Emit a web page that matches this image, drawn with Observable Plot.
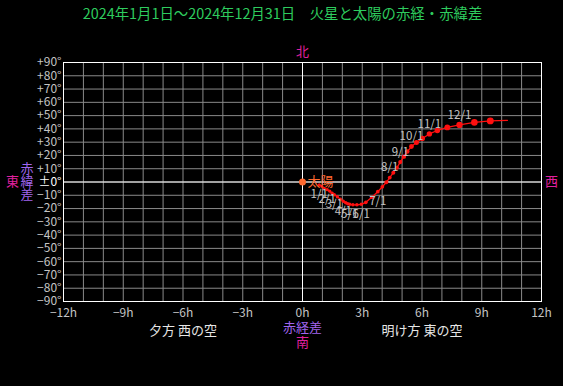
<!DOCTYPE html>
<html><head><meta charset="utf-8">
<script src="https://cdn.jsdelivr.net/npm/d3@7"></script>
<script src="https://cdn.jsdelivr.net/npm/@observablehq/plot@0.6"></script>
<style>
html,body{margin:0;padding:0;background:#000;}
</style></head><body><div id="chart"></div>
<script>
// ---- data ----
const title = "2024年1月1日～2024年12月31日　火星と太陽の赤経・赤緯差";
const dates = ["1/1","1/11","1/21","2/1","2/11","2/21","3/1","3/11","3/21","4/1","4/11","4/21","5/1","5/11","5/21","6/1","6/11","6/21","7/1","7/11","7/21","8/1","8/11","8/21","9/1","9/11","9/21","10/1","10/11","10/21","11/1","11/11","11/21","12/1","12/11","12/21","12/31"];
const raDiff = [0.84,0.97,1.09,1.24,1.37,1.49,1.60,1.75,1.90,2.05,2.17,2.27,2.37,2.53,2.73,2.95,3.18,3.48,3.78,4.01,4.21,4.38,4.56,4.74,4.91,5.09,5.26,5.47,5.72,6.02,6.37,6.77,7.27,7.88,8.63,9.43,10.29];
const decDiff = [-2.0,-3.2,-4.7,-5.8,-6.9,-8.5,-9.6,-11.1,-13.0,-14.5,-15.7,-16.4,-16.8,-17.2,-17.2,-16.8,-15.3,-11.5,-7.3,-3.6,-0.2,3.3,7.0,10.8,15.0,19.1,22.9,26.7,29.7,32.8,36.2,38.8,41.1,43.0,44.9,46.0,46.4];
const marsMag = [1.4,1.4,1.3,1.3,1.3,1.2,1.2,1.2,1.2,1.2,1.1,1.1,1.1,1.1,1.1,1.1,1.0,1.0,1.0,1.0,0.9,0.9,0.8,0.8,0.7,0.6,0.5,0.3,0.2,0.1,0.0,-0.1,-0.3,-0.5,-0.7,-0.9,-1.2];
const sunRa = [0];
const sunDec = [0];
const sunName = ["太陽"];
const xTicks = [-12,-9,-6,-3,0,3,6,9,12];
const hourGrid = [-12,-11,-10,-9,-8,-7,-6,-5,-4,-3,-2,-1,0,1,2,3,4,5,6,7,8,9,10,11,12];
const yTicks = [90,80,70,60,50,40,30,20,10,0,-10,-20,-30,-40,-50,-60,-70,-80,-90];
const sideLabels = ["夕方 西の空","明け方 東の空"];
const sideHours = [-6, 6];

// ---- build ----
const pts = dates.map((d,i)=>({date:d, ra:raDiff[i], dec:decDiff[i], mag:marsMag[i]}));
const dotted = pts.filter(p => !p.date.endsWith("/31"));
const firsts = pts.filter(p => /\/1$/.test(p.date));
const below = firsts.filter(p => +p.date.split("/")[0] <= 7);
const above = firsts.filter(p => +p.date.split("/")[0] >= 8);
const sun = sunRa.map((r,i)=>({ra:r, dec:sunDec[i], name:sunName[i]}));
const fmtX = d => (d < 0 ? "−" + (-d) : d) + "h";
const fmtY = d => (d > 0 ? "+" + d : d < 0 ? "−" + (-d) : "±0") + "°";

const font = "'Noto Sans CJK JP', 'Noto Sans', sans-serif";
const gray = "#c4c4c4", grid = "#8a8a8a", mag = "#e0209f", purple = "#a066ee";
const mid = {lineAnchor: "middle", textAnchor: "middle"};

const chart = Plot.plot({
  width: 563, height: 386,
  marginLeft: 63, marginRight: 22, marginTop: 62, marginBottom: 85,
  style: {background: "#000", color: gray, fontFamily: font, fontSize: "12px"},
  x: {domain: [-12, 12], axis: null},
  y: {domain: [-90, 90], axis: null},
  r: {type: "linear", domain: [1.4, -1.2], range: [1.5, 3.7]},
  marks: [
    Plot.ruleX(hourGrid, {x: d => d, stroke: grid}),
    Plot.ruleY(yTicks, {y: d => d, stroke: grid}),
    Plot.ruleX([0], {stroke: "#fff"}),
    Plot.ruleY([0], {stroke: "#fff"}),
    Plot.frame({stroke: "#fff"}),
    // axis labels
    Plot.text(xTicks, {x: d => d, frameAnchor: "bottom", ...mid, dy: 12, text: fmtX, fill: gray, fontSize: 12}),
    Plot.text(yTicks.filter(d => d !== 0), {y: d => d, frameAnchor: "left", lineAnchor: "middle", textAnchor: "end", dx: -2, text: fmtY, fill: gray, fontSize: 12}),
    Plot.text(yTicks.filter(d => d === 0), {y: d => d, frameAnchor: "left", lineAnchor: "middle", textAnchor: "end", dx: -2, text: fmtY, fill: "#fff", fontSize: 12}),
    // Mars path
    Plot.line(pts, {x: "ra", y: "dec", stroke: "#ff1010", strokeWidth: 1.3}),
    Plot.dot(dotted, {x: "ra", y: "dec", r: "mag", fill: "#ff1010", stroke: "none"}),
    Plot.text(below, {x: "ra", y: "dec", text: "date", dy: 10, fill: gray, fontSize: 11.5}),
    Plot.text(above, {x: "ra", y: "dec", text: "date", dy: -10, fill: gray, fontSize: 11.5}),
    // Sun
    Plot.dot(sun, {x: "ra", y: "dec", r: 3.5, fill: "#ff6a30"}),
    Plot.text(sun, {x: "ra", y: "dec", text: "name", textAnchor: "start", dx: 5, fill: "#ff6a30", fontSize: 13}),
    // titles & direction labels
    Plot.text([title], {frameAnchor: "top", ...mid, dx: -20, dy: -48, fill: "#2ecc5e", fontSize: 14.4}),
    Plot.text(["北"], {frameAnchor: "top", ...mid, dy: -11, fill: mag, fontSize: 13}),
    Plot.text(["西"], {frameAnchor: "right", ...mid, dx: 10, fill: mag, fontSize: 13}),
    Plot.text(["東"], {frameAnchor: "left", ...mid, dx: -51, fill: mag, fontSize: 13}),
    Plot.text(["赤\n緯\n差"], {frameAnchor: "left", ...mid, dx: -36.5, dy: -0.5, lineHeight: 1, fill: purple, fontSize: 13}),
    Plot.text(["赤経差"], {frameAnchor: "bottom", ...mid, dy: 26, fill: purple, fontSize: 13}),
    Plot.text(["南"], {frameAnchor: "bottom", ...mid, dy: 41.5, fill: mag, fontSize: 13}),
    Plot.text(sideLabels, {x: (d, i) => sideHours[i], frameAnchor: "bottom", ...mid, dy: 29, fill: "#e6e6e6", fontSize: 13})
  ]
});
document.getElementById("chart").appendChild(chart);
</script>
</body></html>
